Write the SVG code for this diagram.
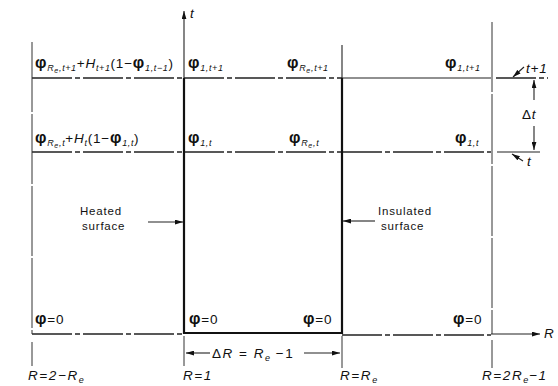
<svg xmlns="http://www.w3.org/2000/svg" width="558" height="386" viewBox="0 0 558 386">
<style>
text{font-family:"Liberation Sans","DejaVu Sans",sans-serif;fill:#111}
.lbl{font-size:13.5px;letter-spacing:0.8px}
.phi{font-size:16px;font-weight:bold}
.it{font-style:italic}
.sub{font-size:9px;font-style:italic;letter-spacing:0.6px}
.sub2{font-size:7px;font-style:italic}
.note{font-size:11.5px;letter-spacing:0.8px}
.thin{stroke:#222;stroke-width:1.1;fill:none}
.dash{stroke:#222;stroke-width:1.3;fill:none;stroke-dasharray:40 3 5 3}
.vdash{stroke:#333;stroke-width:1;fill:none;stroke-dasharray:70 2}
.heavy{stroke:#111;stroke-width:2.2;fill:none}
</style>
<defs>
<marker id="ah" viewBox="0 0 10 6" refX="10" refY="3" markerWidth="8" markerHeight="5" orient="auto" markerUnits="userSpaceOnUse">
<path d="M0,0 L10,3 L0,6 z" fill="#111"/>
</marker>
</defs>
<g id="connectors">
<line class="dash" x1="32" y1="78" x2="184" y2="78"/>
<line class="dash" x1="184" y1="78" x2="342" y2="78"/>
<line class="thin" x1="342" y1="78" x2="491" y2="78"/>
<line class="dash" x1="496" y1="78" x2="548" y2="78"/>
<line class="dash" x1="32" y1="152" x2="184" y2="152"/>
<line class="dash" x1="184" y1="152" x2="342" y2="152"/>
<line class="dash" x1="342" y1="152" x2="491" y2="152"/>
<line class="thin" x1="497" y1="152" x2="540" y2="152"/>
<line class="dash" x1="32" y1="334" x2="184" y2="334"/>
<line class="dash" x1="342" y1="335" x2="491" y2="335"/>
<line class="thin" x1="491" y1="334" x2="540" y2="334" marker-end="url(#ah)"/>
<line class="vdash" x1="32" y1="42" x2="32" y2="334"/>
<line class="vdash" x1="32" y1="342" x2="32" y2="366"/>
<line class="thin" x1="184" y1="78" x2="184" y2="11" marker-end="url(#ah)"/>
<line class="vdash" x1="184" y1="336" x2="184" y2="366"/>
<line class="thin" x1="342" y1="45" x2="342" y2="78"/>
<line class="vdash" x1="342" y1="336" x2="342" y2="368"/>
<line class="vdash" x1="492" y1="22" x2="492" y2="334"/>
<line class="vdash" x1="492" y1="340" x2="492" y2="368"/>
<path class="heavy" d="M184,78 V333 H342 V78"/>
<line class="thin" x1="148" y1="222" x2="183" y2="222" marker-end="url(#ah)"/>
<line class="thin" x1="375" y1="221" x2="343" y2="221" marker-end="url(#ah)"/>
<line class="thin" x1="534" y1="100" x2="534" y2="80" marker-end="url(#ah)"/>
<line class="thin" x1="534" y1="126" x2="534" y2="150" marker-end="url(#ah)"/>
<line class="thin" x1="524" y1="67" x2="513" y2="77" marker-end="url(#ah)"/>
<line class="thin" x1="523" y1="161" x2="512" y2="154" marker-end="url(#ah)"/>
<line class="thin" x1="210" y1="353" x2="186" y2="353" marker-end="url(#ah)"/>
<line class="thin" x1="304" y1="353" x2="340" y2="353" marker-end="url(#ah)"/>
</g>
<g id="axis-labels">
<text class="lbl it" x="190" y="18">t</text>
<text class="lbl it" x="544" y="338">R</text>
<text class="lbl it" x="526" y="73">t+1</text>
<text class="lbl" x="522" y="119">Δ<tspan class="it">t</tspan></text>
<text class="lbl it" x="527" y="166">t</text>
</g>
<g id="row-top">
<text class="lbl" x="35" y="68"><tspan class="phi">φ</tspan><tspan class="sub" dy="3">R</tspan><tspan class="sub2" dy="2">e</tspan><tspan class="sub" dy="-2">,t+1</tspan><tspan dy="-3">+</tspan><tspan class="it">H</tspan><tspan class="sub" dy="3">t+1</tspan><tspan dy="-3">(1−</tspan><tspan class="phi">φ</tspan><tspan class="sub" dy="3">1,t−1</tspan><tspan dy="-3">)</tspan></text>
<text class="lbl" x="188" y="68"><tspan class="phi">φ</tspan><tspan class="sub" dy="3">1,t+1</tspan></text>
<text class="lbl" x="287" y="68"><tspan class="phi">φ</tspan><tspan class="sub" dy="3">R</tspan><tspan class="sub2" dy="2">e</tspan><tspan class="sub" dy="-2">,t+1</tspan></text>
<text class="lbl" x="445" y="68"><tspan class="phi">φ</tspan><tspan class="sub" dy="3">1,t+1</tspan></text>
</g>
<g id="row-mid">
<text class="lbl" x="35" y="143"><tspan class="phi">φ</tspan><tspan class="sub" dy="3">R</tspan><tspan class="sub2" dy="2">e</tspan><tspan class="sub" dy="-2">,t</tspan><tspan dy="-3">+</tspan><tspan class="it">H</tspan><tspan class="sub" dy="3">t</tspan><tspan dy="-3">(1−</tspan><tspan class="phi">φ</tspan><tspan class="sub" dy="3">1,t</tspan><tspan dy="-3">)</tspan></text>
<text class="lbl" x="188" y="143"><tspan class="phi">φ</tspan><tspan class="sub" dy="3">1,t</tspan></text>
<text class="lbl" x="289" y="143"><tspan class="phi">φ</tspan><tspan class="sub" dy="3">R</tspan><tspan class="sub2" dy="2">e</tspan><tspan class="sub" dy="-2">,t</tspan></text>
<text class="lbl" x="455" y="143"><tspan class="phi">φ</tspan><tspan class="sub" dy="3">1,t</tspan></text>
</g>
<g id="row-bottom">
<text class="lbl" x="35" y="324"><tspan class="phi">φ</tspan>=0</text>
<text class="lbl" x="189" y="324"><tspan class="phi">φ</tspan>=0</text>
<text class="lbl" x="303" y="324"><tspan class="phi">φ</tspan>=0</text>
<text class="lbl" x="453" y="324"><tspan class="phi">φ</tspan>=0</text>
</g>
<g id="heated-surface">
<text class="note" x="80" y="215">Heated</text>
<text class="note" x="82" y="230">surface</text>
</g>
<g id="insulated-surface">
<text class="note" x="378" y="215">Insulated</text>
<text class="note" x="381" y="230">surface</text>
</g>
<g id="dimension-labels">
<text class="lbl" x="212" y="358" style="letter-spacing:1.5px">Δ<tspan class="it">R</tspan> = <tspan class="it">R</tspan><tspan class="sub" dy="3">e</tspan><tspan dy="-3">  −1</tspan></text>
<text class="lbl it" x="28" y="380" style="letter-spacing:1.6px">R=2−R<tspan class="sub" dy="3">e</tspan></text>
<text class="lbl it" x="183" y="380" style="letter-spacing:1.6px">R=1</text>
<text class="lbl it" x="340" y="380" style="letter-spacing:1.6px">R=R<tspan class="sub" dy="3">e</tspan></text>
<text class="lbl it" x="482" y="380" style="letter-spacing:1.6px">R=2R<tspan class="sub" dy="3">e</tspan><tspan dy="-3">−1</tspan></text>
</g>
</svg>
